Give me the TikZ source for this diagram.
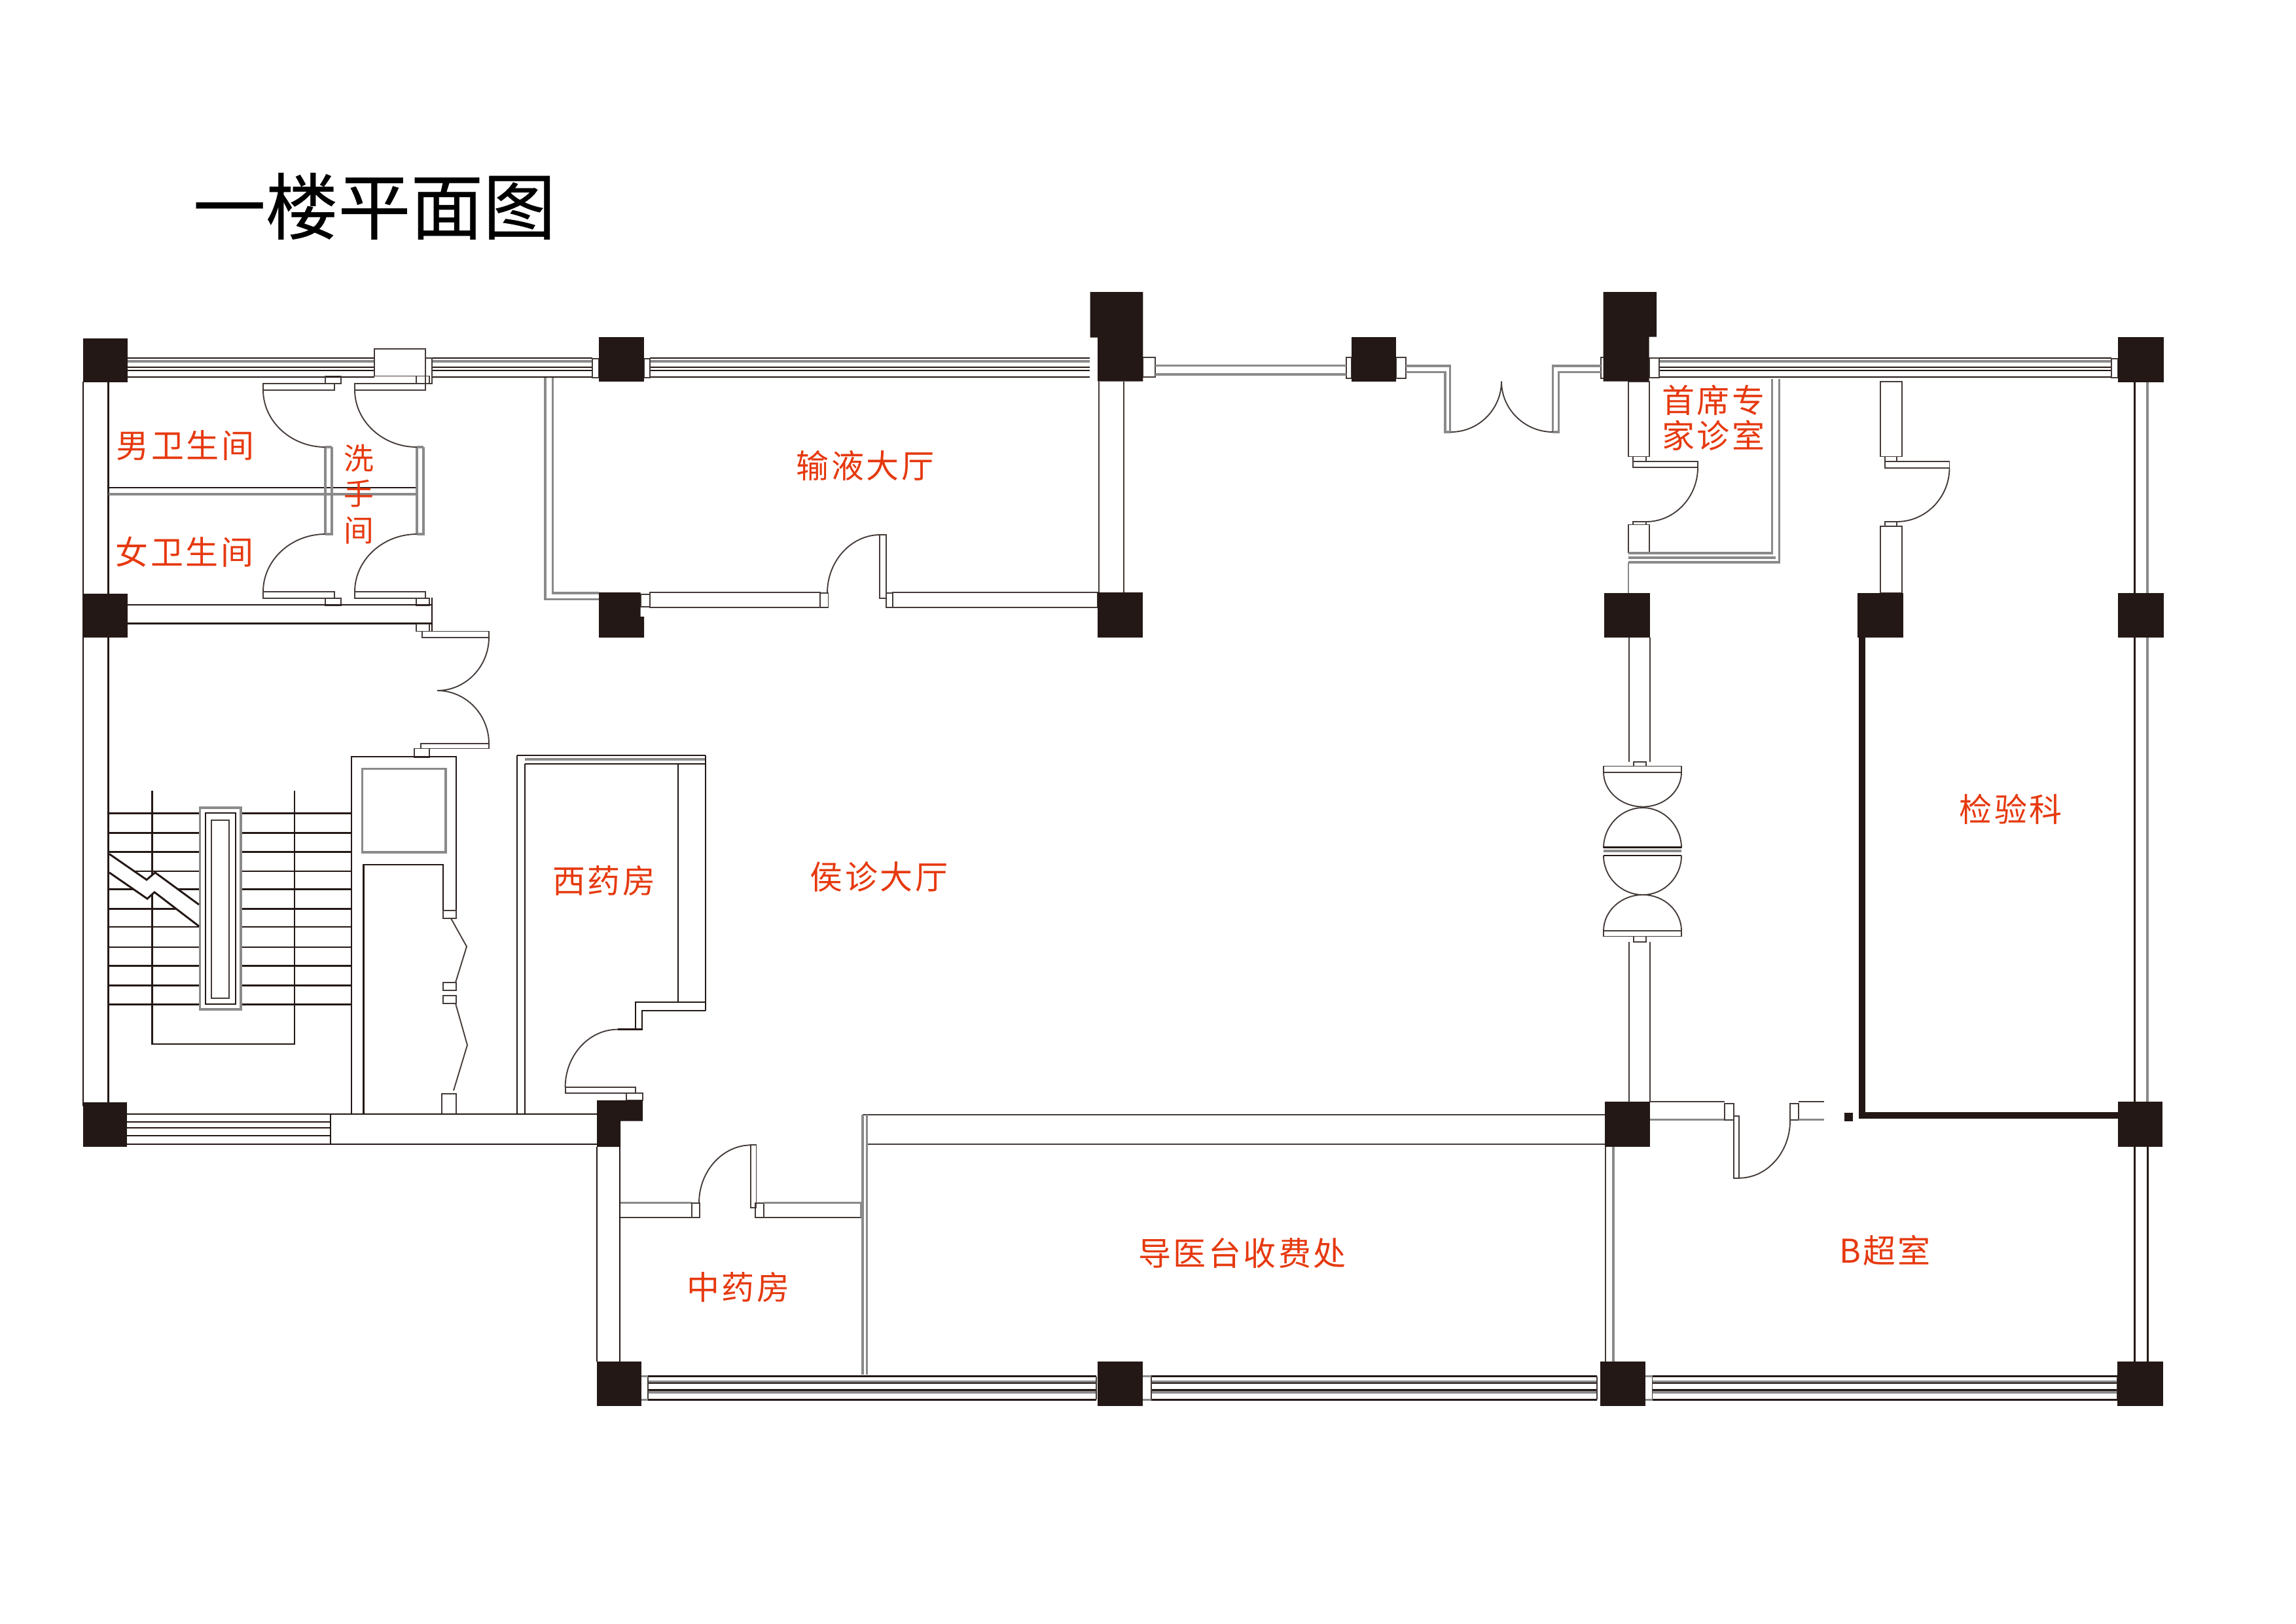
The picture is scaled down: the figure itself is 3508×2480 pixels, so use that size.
\documentclass[tikz,border=0pt]{standalone}
\usepackage{fontspec}
\newfontfamily\cjk[LetterSpace=7]{Noto Sans CJK SC}
\newfontfamily\cjkplain{Noto Sans CJK SC}
\newfontfamily\cjktitle[FakeBold=0.35]{Noto Sans CJK SC}
\definecolor{ink}{HTML}{231815}
\definecolor{soft}{HTML}{8A8A8A}
\definecolor{labelred}{HTML}{E6390F}
\tikzset{
  wl/.style={draw=ink,line width=0.7pt},
  tl/.style={draw=ink!85,line width=0.45pt},
  gl/.style={draw=soft,line width=0.75pt},
  pillar/.style={fill=ink},
  roomlabel/.style={text=labelred,inner sep=0pt,font=\cjk\fontsize{12}{14}\selectfont},
  titlelabel/.style={text=black,inner sep=0pt,font=\cjktitle\fontsize{26.6}{30}\selectfont}
}
\newcommand\vh[4]{\draw[tl] (#1,#2) .. controls (#1,{#2+0.55*(#4-#2)}) and ({#3-0.55*(#3-#1)},#4) .. (#3,#4);}
\newcommand\bx[4]{\draw[tl] (#1,#2) rectangle (#3,#4);}
\newcommand\gbx[4]{\draw[gl] (#1,#2) rectangle (#3,#4);}
\newcommand\pil[4]{\fill[pillar] (#1,#2) rectangle (#3,#4);}
\newcommand\hl[4][wl]{\draw[#1] (#2,#4) -- (#3,#4);}
\newcommand\vl[4][wl]{\draw[#1] (#4,#2) -- (#4,#3);}
\newcommand\topsash[2]{%
  \hl{#1}{#2}{547}\hl[gl]{#1}{#2}{552}\hl{#1}{#2}{561}\hl{#1}{#2}{566}\hl{#1}{#2}{576}}
\newcommand\botsash[2]{%
  \hl{#1}{#2}{2102.6}\hl[gl]{#1}{#2}{2111}\hl{#1}{#2}{2113}\hl{#1}{#2}{2123.7}\hl[gl]{#1}{#2}{2127}\hl{#1}{#2}{2138.4}\vl[tl]{2102.6}{2138.4}{#1}\vl[tl]{2102.6}{2138.4}{#2}}
\begin{document}
\begin{tikzpicture}[x=0.24pt,y=-0.24pt]
\fill[white] (0,0) rectangle (3508,2480);
\useasboundingbox (0,0) rectangle (3508,2480);

% ---------- title
\node[titlelabel,anchor=center] (title) at (572,315) {一楼平面图};

% ---------- top sashes
\topsash{195}{572}
\topsash{660}{905}
\topsash{993}{1665}
\topsash{2535}{3226}
\bx{572}{533.4}{650}{574.5}
\bx{650}{547}{660}{586}
\bx{905}{548}{915}{577}
\bx{984}{548}{993}{577}
\bx{1746}{546}{1765}{576}
\bx{2057}{546}{2065}{578}
\bx{2133}{546}{2148}{578}
\bx{2446}{546}{2451}{578}
\bx{2520}{547}{2535}{577}
\bx{3226}{548}{3236}{577}
\hl[gl]{1765}{2057}{558.5}
\hl[gl]{1765}{2057}{572}

% ---------- entrance
\draw[gl] (2148,559) -- (2215.5,559) -- (2215.5,660);
\draw[gl] (2148,568.5) -- (2208,568.5) -- (2208,660) -- (2216.6,660);
\draw[gl] (2446,559) -- (2372.8,559) -- (2372.8,660);
\draw[gl] (2446,568.5) -- (2381.4,568.5) -- (2381.4,660) -- (2372.8,660);
\vh{2294}{582.6}{2216.6}{660}
\vh{2294}{582.6}{2372.8}{660}

% ---------- left wall
\vl{583}{1690}{127}
\vl{583}{1690}{165.6}

% ---------- toilets
\hl{165.6}{638}{745}
\hl[gl]{165.6}{638}{755}
\draw[gl] (497,683) -- (497,816);
\draw[gl] (507,683) -- (507,816) -- (497,816);
\draw[gl] (497,683) -- (507,683);
\draw[gl] (637,683) -- (637,816);
\draw[gl] (647,683) -- (647,816) -- (637,816);
\draw[gl] (637,683) -- (647,683);
\bx{402}{586}{511}{595.6}
\bx{497}{574.5}{521}{586}
\vh{402}{595.6}{497}{683}
\bx{542}{586}{650}{595.6}
\bx{636}{574.5}{656}{586}
\vh{542}{595.6}{637}{683}
\bx{402}{904}{511}{914}
\bx{497}{914}{521}{925}
\vh{402}{904}{497}{816}
\bx{542}{904}{650}{914}
\bx{636}{914}{656}{925}
\vh{542}{904}{637}{816}
\hl{195}{660}{924}
\hl{195}{660}{952.5}
\vl{913}{964}{660}
\bx{636}{953.5}{656}{964.5}
\bx{645}{964.5}{747}{973.6}
\vh{747}{973.6}{668}{1055}
\vh{747}{1136}{668}{1055}
\bx{643}{1136}{747}{1143.5}
\bx{633}{1143.5}{656}{1157}

% ---------- stairs
\foreach \yy in {1242.4,1272.6,1301.3,1331,1358.7,1388.4,1416,1447,1475.5,1505.6,1534.3}{
  \hl{165.6}{305.6}{\yy}
  \hl{368}{537}{\yy}
}
\draw[wl] (232.6,1208) -- (232.6,1595) -- (450,1595) -- (450,1208);
\fill[white] (305.6,1234) rectangle (368,1542);
\gbx{305.6}{1234}{368}{1542}
\draw[wl] (314,1242) rectangle (360,1534);
\draw[tl] (323,1253) rectangle (350,1525);
\fill[white] (167,1304.6) -- (224,1344) -- (237,1333) -- (304,1382) -- (304,1415) -- (236,1363) -- (225,1373) -- (167,1333) -- cycle;
\draw[wl] (167,1304.6) -- (224,1344) -- (237,1333) -- (304,1382);
\draw[wl] (167,1333) -- (225,1373) -- (236,1363) -- (304,1415);

% ---------- lift shaft and folded door
\draw[wl] (537,1702) -- (537,1156) -- (697,1156) -- (697,1391);
\draw[wl] (555.5,1702) -- (555.5,1321) -- (677,1321) -- (677,1391);
\gbx{553.5}{1174.5}{681}{1302}
\bx{677}{1391}{697}{1403}
\draw[tl] (689,1403) -- (713,1446) -- (696,1501);
\bx{677}{1501}{697}{1513}
\bx{677}{1521}{697}{1533}
\draw[tl] (696,1533) -- (714,1596.5) -- (693,1666);
\bx{675}{1671}{697}{1702}

% ---------- west pharmacy
\vl{1154}{1702}{790}
\vl{1167}{1702}{802}
\hl{790}{1078}{1154}
\hl[gl]{802}{1078}{1160}
\hl{802}{1078}{1167}
\vl{1154}{1544}{1078}
\vl{1167}{1531}{1036}
\draw[wl] (1078,1531) -- (971,1531) -- (971,1572.6) -- (944,1572.6);
\draw[wl] (1078,1544) -- (981,1544) -- (981,1572.6) -- (971,1572.6);
\vh{863.6}{1661}{944}{1572.6}
\bx{863.6}{1661}{971}{1670}
\bx{957}{1670}{982}{1681}

% ---------- south-west wing
\foreach \yy in {1702,1714,1723,1735,1748}{\hl{194}{505}{\yy}}
\vl{1702}{1748}{505}
\hl{505}{912}{1702}
\hl{505}{912}{1748}
\vl{1752}{2080}{912}
\vl{1752}{2080}{947}

% ---------- infusion hall
\draw[gl] (833,577) -- (833,915.6) -- (915,915.6);
\draw[gl] (844.6,577) -- (844.6,906) -- (915,906);
\bx{978.6}{908}{993}{927}
\bx{993}{905}{1253}{928}
\bx{1253}{906}{1265.5}{928}
\vh{1264}{906}{1345}{817}
\bx{1344}{817}{1353.6}{913.7}
\bx{1353.6}{906}{1364.4}{928}
\bx{1364.4}{905}{1677}{928}
\vl[tl]{582.6}{905}{1679}
\vl[tl]{582.6}{905}{1717}

% ---------- east part, upper rooms
\bx{2488}{582.6}{2520}{697.5}
\bx{2495}{697.5}{2515}{705}
\bx{2495}{705}{2594}{714}
\vh{2594}{714}{2515}{797}
\bx{2495}{797}{2515}{801.5}
\draw[tl] (2488,845) -- (2488,801.5) -- (2520,801.5) -- (2520,845);
\draw[gl] (2488,845) -- (2707.6,845) -- (2707.6,579);
\draw[gl] (2488,859) -- (2718.5,859) -- (2718.5,579);
\draw[gl] (2488,852) -- (2713,852);
\draw[gl,line width=0.4pt] (2488,859) -- (2488,906);
\bx{2873}{582.6}{2906}{697.5}
\bx{2880}{697.5}{2898}{705}
\bx{2880}{705}{2978.5}{714.7}
\vh{2978.5}{714.7}{2898}{797}
\bx{2880}{797}{2898}{804}
\bx{2873}{804}{2906}{906}

% ---------- east double doors
\vl[tl]{974}{1163.6}{2489}
\vl[tl]{974}{1163.6}{2521}
\bx{2495.7}{1163.6}{2515}{1170.5}
\bx{2450}{1170.5}{2569}{1179.7}
\vh{2450}{1179.7}{2510}{1232.5}
\vh{2569}{1179.7}{2510}{1232.5}
\vh{2450}{1295.6}{2510}{1234}
\vh{2569}{1295.6}{2510}{1234}
\hl{2450}{2569}{1294.5}
\hl[gl]{2450}{2569}{1300}
\hl{2450}{2569}{1307}
\vh{2450}{1307}{2510}{1367}
\vh{2569}{1307}{2510}{1367}
\vh{2450}{1422}{2510}{1367}
\vh{2569}{1422}{2510}{1367}
\bx{2450}{1422}{2569}{1430.5}
\bx{2495.7}{1430.5}{2515}{1439}
\vl[tl]{1439}{1683}{2489}
\vl[tl]{1439}{1683}{2521}

% ---------- lab
\draw[draw=ink,line width=2.4pt] (2845,974) -- (2845,1704) -- (3236,1704);
\fill[ink] (2817.7,1700) rectangle (2830.5,1713);
\vl{583.5}{906}{3261}
\vl[gl]{583.5}{906}{3281}
\vl{974}{1683}{3261}
\vl[gl]{974}{1683}{3281}
\vl{1752}{2080}{3261}
\vl{1752}{2080}{3281}

% ---------- B-ultrasound door
\hl[tl]{2521}{2634.7}{1683}
\hl[gl]{2521}{2634.7}{1710.7}
\bx{2634.7}{1686}{2648.7}{1710.7}
\bx{2648.7}{1705}{2657}{1799.7}
\vh{2735}{1712}{2657}{1799.7}
\bx{2735}{1686}{2747.6}{1710.7}
\hl[tl]{2747.6}{2787}{1683}
\hl[gl]{2747.6}{2787}{1710.7}

% ---------- reception block
\hl[tl]{1318}{2452}{1703}
\hl[tl]{1324.5}{2452}{1748}
\draw[gl] (1318,1703) -- (1318,2100);
\draw[gl] (1324.5,1703) -- (1324.5,2100);
\vl[tl]{1752}{2080}{2453}
\vl[gl]{1752}{2080}{2465}

% ---------- Chinese pharmacy
\hl[gl]{948}{1056.7}{1837.7}
\hl[tl]{948}{1056.7}{1860}
\bx{1056.7}{1838}{1069.4}{1860}
\vh{1068}{1837.7}{1148}{1749.3}
\bx{1146.6}{1749.3}{1155.5}{1844.7}
\bx{1154}{1838.4}{1167}{1860}
\hl[gl]{1167}{1315.6}{1837.7}
\hl[tl]{1167}{1315.6}{1860}
\vl[gl]{1837.7}{1860}{1315.6}

% ---------- south sashes
\botsash{990}{1675}
\botsash{1759}{2440}
\botsash{2524.5}{3235}
\foreach \xa/\xb in {980/990,1746/1759,2514/2524.5}{
  \hl[gl]{\xa}{\xb}{2102.6}
  \hl[gl]{\xa}{\xb}{2138.4}
}

% ---------- pillars
\pil{127}{517}{195}{584}
\pil{127}{906.6}{195}{974}
\pil{127}{1684}{194}{1752}
\pil{915}{514.5}{984}{582.6}
\fill[pillar] (1665.5,446) -- (1746.4,446) -- (1746.4,582.6) -- (1677,582.6) -- (1677,515.7) -- (1665.5,515.7) -- cycle;
\pil{2064.5}{514.5}{2133.4}{582.6}
\fill[pillar] (2449.7,446) -- (2531,446) -- (2531,514.5) -- (2519.7,514.5) -- (2519.7,582.6) -- (2449.7,582.6) -- cycle;
\pil{3236}{514.5}{3306}{583.5}
\fill[pillar] (915,905) -- (978.6,905) -- (978.6,942) -- (984,942) -- (984,974) -- (915,974) -- cycle;
\pil{1677}{905}{1746}{974}
\pil{2451}{906}{2521}{974}
\pil{2838}{906}{2907.6}{974}
\pil{3236}{906}{3306}{974}
\fill[pillar] (912,1681) -- (982,1681) -- (982,1712.5) -- (948,1712.5) -- (948,1752) -- (912,1752) -- cycle;
\pil{2452}{1683}{2521}{1752}
\pil{3235.5}{1683}{3304}{1752}
\pil{912}{2080}{980}{2148}
\pil{1677}{2080}{1746}{2148}
\pil{2445}{2080}{2514}{2148}
\pil{3235}{2080}{3304.5}{2148}

% ---------- room labels
\node[roomlabel] (men) at (283,680) {男卫生间};
\node[roomlabel] (women) at (282,843) {女卫生间};
\node[roomlabel,font=\cjkplain\fontsize{11}{13}\selectfont] (wash1) at (548,700) {洗};
\node[roomlabel,font=\cjkplain\fontsize{11}{13}\selectfont] (wash2) at (548,754) {手};
\node[roomlabel,font=\cjkplain\fontsize{11}{13}\selectfont] (wash3) at (548,810) {间};
\node[roomlabel] (infusion) at (1322,711) {输液大厅};
\node[roomlabel] (expert1) at (2618,611) {首席专};
\node[roomlabel] (expert2) at (2618,665) {家诊室};
\node[roomlabel] (western) at (923,1345) {西药房};
\node[roomlabel] (waiting) at (1343,1340) {侯诊大厅};
\node[roomlabel] (lab) at (3072,1236) {检验科};
\node[roomlabel] (chinese) at (1128,1966) {中药房};
\node[roomlabel] (desk) at (1898,1914) {导医台收费处};
\node[roomlabel] (bscan) at (2880,1910) {B超室};
\end{tikzpicture}
\end{document}
